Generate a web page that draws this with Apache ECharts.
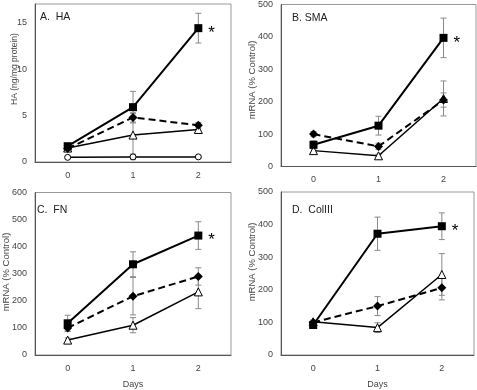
<!DOCTYPE html>
<html>
<head>
<meta charset="utf-8">
<script src="https://cdn.jsdelivr.net/npm/echarts@6/dist/echarts.min.js"></script>
<style>
  html, body { margin: 0; padding: 0; background: #fff; }
  #chart { width: 477px; height: 390px; }
</style>
</head>
<body>
<div id="chart"></div>
<script>
const days = ['0', '1', '2']

// A. HA (ng/mg protein)
const haSquare = [1.7, 5.9, 14.4]
const haSquareErr = [0.3, 1.7, 1.6]
const haDiamond = [1.45, 4.8, 3.95]
const haDiamondErr = [0.2, 0.5, 0.3]
const haTriangle = [1.5, 2.9, 3.5]
const haTriangleErr = [0.3, 2.3, 0.3]
const haCircle = [0.5, 0.55, 0.55]
const haCircleErr = [0.1, 0.3, 0.1]

// B. SMA mRNA (% Control)
const smaSquare = [67, 126, 397]
const smaSquareErr = [12, 29, 61]
const smaDiamond = [100, 62, 205]
const smaDiamondErr = [8, 10, 22]
const smaTriangle = [49, 33, 210]
const smaTriangleErr = [6, 5, 54]

// C. FN mRNA (% Control)
const fnSquare = [117, 335, 441]
const fnSquareErr = [30, 46, 51]
const fnDiamond = [100, 217, 290]
const fnDiamondErr = [12, 69, 32]
const fnTriangle = [55, 110, 233]
const fnTriangleErr = [8, 28, 62]

// D. ColIII mRNA (% Control)
const colSquare = [92, 372, 395]
const colSquareErr = [5, 51, 41]
const colDiamond = [100, 150, 206]
const colDiamondErr = [5, 29, 37]
const colTriangle = [102, 84, 247]
const colTriangleErr = [5, 15, 64]

const FONT = 'Liberation Sans, Arial, sans-serif'

let myChart = echarts.init(document.getElementById('chart'))

function errData(vals, errs) {
    return vals.map((v, i) => [i, v - errs[i], v + errs[i]])
}

function renderErr(params, api) {
    let x = api.value(0)
    let top = api.coord([x, api.value(2)])
    let bot = api.coord([x, api.value(1)])
    let w = 3
    let style = { stroke: '#888', lineWidth: 1 }
    return {
        type: 'group',
        children: [
            { type: 'line', shape: { x1: top[0], y1: top[1], x2: bot[0], y2: bot[1] }, style },
            { type: 'line', shape: { x1: top[0] - w, y1: top[1], x2: top[0] + w, y2: top[1] }, style },
            { type: 'line', shape: { x1: bot[0] - w, y1: bot[1], x2: bot[0] + w, y2: bot[1] }, style }
        ]
    }
}

function errSeries(idx, vals, errs) {
    return {
        type: 'custom',
        xAxisIndex: idx,
        yAxisIndex: idx,
        renderItem: renderErr,
        data: errData(vals, errs),
        encode: { x: 0, y: [1, 2] },
        z: 1,
        silent: true
    }
}

function squareSeries(idx, vals) {
    return {
        type: 'line',
        xAxisIndex: idx,
        yAxisIndex: idx,
        data: vals,
        symbol: 'rect',
        symbolSize: 8,
        itemStyle: { color: '#000' },
        lineStyle: { color: '#000', width: 2 },
        label: {
            show: true,
            position: 'right',
            distance: 6,
            offset: [0, 5],
            fontSize: 17,
            fontFamily: FONT,
            color: '#000',
            formatter: p => p.dataIndex === 2 ? '*' : ''
        },
        z: 5
    }
}

function diamondSeries(idx, vals) {
    return {
        type: 'line',
        xAxisIndex: idx,
        yAxisIndex: idx,
        data: vals,
        symbol: 'diamond',
        symbolSize: 9,
        itemStyle: { color: '#000' },
        lineStyle: { color: '#000', width: 2, type: [7, 4] },
        z: 4
    }
}

function openSeries(idx, vals, symbol, size) {
    return {
        type: 'line',
        xAxisIndex: idx,
        yAxisIndex: idx,
        data: vals,
        symbol: symbol,
        symbolSize: size,
        showAllSymbol: true,
        itemStyle: { color: '#fff', borderColor: '#000', borderWidth: 1 },
        lineStyle: { color: '#000', width: 1.5 },
        z: 3
    }
}

function xAxisOf(idx, withName) {
    return {
        type: 'category',
        gridIndex: idx,
        data: days,
        boundaryGap: true,
        axisTick: { show: false },
        axisLine: { lineStyle: { color: '#555', width: 1 } },
        axisLabel: { color: '#444', fontSize: 9, fontFamily: FONT, margin: 9 },
        name: withName ? 'Days' : '',
        nameLocation: 'middle',
        nameGap: 25,
        nameTextStyle: { color: '#444', fontSize: 9, fontFamily: FONT }
    }
}

function yAxisOf(idx, max, interval, step) {
    return {
        type: 'value',
        gridIndex: idx,
        min: 0,
        max: max,
        interval: interval,
        splitLine: { show: false },
        axisTick: { show: false },
        axisLine: { show: true, lineStyle: { color: '#555', width: 1 } },
        axisLabel: {
            color: '#444', fontSize: 9, fontFamily: FONT, margin: 8,
            formatter: v => (v % step === 0 ? v : '')
        }
    }
}

function yTitle(text, x, y, size) {
    return {
        type: 'text',
        x: x,
        y: y,
        rotation: Math.PI / 2,
        style: {
            text: text,
            fill: '#444',
            font: size + 'px ' + FONT,
            align: 'center',
            verticalAlign: 'middle'
        }
    }
}

let gridStyle = { show: true, borderColor: '#999', borderWidth: 1 }

let option = {
    animation: false,
    backgroundColor: '#fff',
    textStyle: { fontFamily: FONT },
    title: [
        { text: 'A.  HA', left: 40, top: 12 },
        { text: 'B. SMA', left: 292, top: 13 },
        { text: 'C.  FN', left: 37, top: 205 },
        { text: 'D.  ColIII', left: 292, top: 205 }
    ].map(t => Object.assign(t, {
        padding: 0,
        textStyle: { fontSize: 10.5, fontWeight: 'normal', color: '#222', fontFamily: FONT }
    })),
    grid: [
        Object.assign({ left: 35, top: 4, width: 196, height: 158 }, gridStyle),
        Object.assign({ left: 281, top: 4, width: 195, height: 162.5 }, gridStyle),
        Object.assign({ left: 35, top: 192.5, width: 196, height: 162.5 }, gridStyle),
        Object.assign({ left: 281, top: 192, width: 193, height: 163 }, gridStyle)
    ],
    xAxis: [xAxisOf(0, false), xAxisOf(1, false), xAxisOf(2, true), xAxisOf(3, true)],
    yAxis: [
        yAxisOf(0, 17, 5, 5),
        yAxisOf(1, 500, 100, 100),
        yAxisOf(2, 600, 100, 100),
        yAxisOf(3, 500, 100, 100)
    ],
    graphic: [
        yTitle('HA (ng/mg protein)', 15, 69, 8.5),
        yTitle('mRNA (% Control)', 252, 80, 9.5),
        yTitle('mRNA (% Control)', 6, 272, 9.5),
        yTitle('mRNA (% Control)', 252, 262, 9.5)
    ],
    series: [
        errSeries(0, haSquare, haSquareErr),
        errSeries(0, haDiamond, haDiamondErr),
        errSeries(0, haTriangle, haTriangleErr),
        errSeries(0, haCircle, haCircleErr),
        squareSeries(0, haSquare),
        diamondSeries(0, haDiamond),
        openSeries(0, haTriangle, 'triangle', 8),
        openSeries(0, haCircle, 'circle', 6),

        errSeries(1, smaSquare, smaSquareErr),
        errSeries(1, smaDiamond, smaDiamondErr),
        errSeries(1, smaTriangle, smaTriangleErr),
        squareSeries(1, smaSquare),
        diamondSeries(1, smaDiamond),
        openSeries(1, smaTriangle, 'triangle', 8),

        errSeries(2, fnSquare, fnSquareErr),
        errSeries(2, fnDiamond, fnDiamondErr),
        errSeries(2, fnTriangle, fnTriangleErr),
        squareSeries(2, fnSquare),
        diamondSeries(2, fnDiamond),
        openSeries(2, fnTriangle, 'triangle', 8),

        errSeries(3, colSquare, colSquareErr),
        errSeries(3, colDiamond, colDiamondErr),
        errSeries(3, colTriangle, colTriangleErr),
        squareSeries(3, colSquare),
        diamondSeries(3, colDiamond),
        openSeries(3, colTriangle, 'triangle', 8)
    ]
}

myChart.setOption(option)
</script>
</body>
</html>
